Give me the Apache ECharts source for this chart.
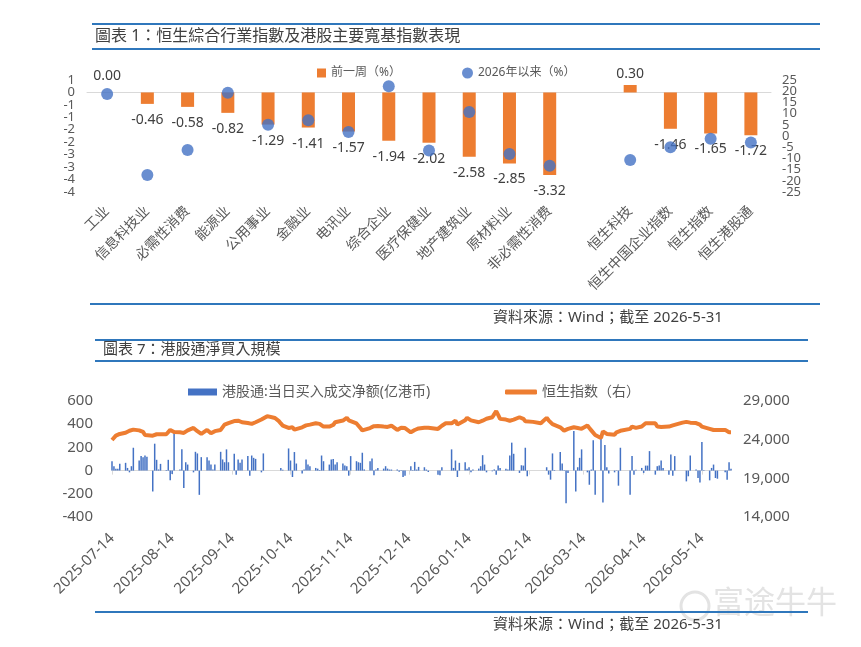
<!DOCTYPE html>
<html><head><meta charset="utf-8">
<script src="https://cdn.jsdelivr.net/npm/echarts/dist/echarts.min.js"></script>
<style>html,body{margin:0;padding:0;background:#fff}#c{width:861px;height:647px}</style>
</head><body><div id="c"></div>
<script>
// ---------- Chart 1 data ----------
const sectors = ['工业','信息科技业','必需性消费','能源业','公用事业','金融业','电讯业','综合企业','医疗保健业','地产建筑业','原材料业','非必需性消费','','恒生科技','恒生中国企业指数','恒生指数','恒生港股通'];
const weekChange = [0.00,-0.46,-0.58,-0.82,-1.29,-1.41,-1.57,-1.94,-2.02,-2.58,-2.85,-3.32,null,0.30,-1.46,-1.65,-1.72];
const ytdChange = [18.8,-17.4,-6.2,19.3,5.0,7.0,1.8,22.2,-6.5,10.7,-8.0,-13.3,null,-10.7,-5.0,-1.2,-2.9];

// ---------- Chart 2 data (one value per weekday from startDate; null = no trading) ----------
const startDate = '2025-07-14';
const endDate = '2026-05-29';
const dateTickLabels = ['2025-07-14','2025-08-14','2025-09-14','2025-10-14','2025-11-14','2025-12-14','2026-01-14','2026-02-14','2026-03-14','2026-04-14','2026-05-14'];
const flowNet = [
  81,38,15,15,58,   67,23,-15,38,197,   87,125,116,130,119,   -180,232,93,10,58,
  5,93,-84,-30,336,   9,183,-151,72,52,   -15,162,148,-209,116,   116,87,52,10,52,
  162,96,72,183,72,   145,-35,96,67,96,   125,-44,130,110,101,   -15,148,null,null,null,
  null,null,null,23,8,   191,87,-55,160,61,   -26,9,96,52,38,   23,17,5,130,81,
  52,96,101,52,72,   61,43,38,-44,125,   81,72,67,154,10,   81,104,-41,9,23,
  17,38,17,9,9,   9,-9,5,-55,-44,   38,5,75,9,32,   29,9,-12,null,null,
  -35,-41,29,null,null,   183,23,87,-55,67,   72,15,29,-15,10,   17,38,133,52,-15,
  -6,10,-35,43,23,   15,9,130,241,145,   -20,46,43,197,-49,   null,null,null,null,null,
  29,-35,-78,148,5,   160,61,5,-281,-20,   342,-180,29,110,183,   -15,-122,9,261,-209,
  276,-275,220,29,-26,   -15,3,-130,197,null,   null,-209,125,-35,8,   23,-20,43,43,168,
  -35,38,43,87,23,   -35,139,-44,125,null,   null,null,-93,-49,130,   9,-64,-102,247,5,
  -84,23,52,-64,-70,   null,-15,-78,72,15
];
const hsiClose = [
  23960,24200,24520,24600,24740,   24900,25080,25150,25340,25300,   25200,25260,25000,24600,24390,   24520,24600,24700,24820,24700,
  24700,24740,25260,25100,25000,   24950,24900,24870,25000,25200,   25520,25300,25100,24900,24740,   25260,25100,24820,24900,25100,
  25260,25500,25950,26000,26150,   26400,26560,26450,26300,26250,   26150,26050,26040,26150,26250,   26600,26850,null,27040,26900,
  26800,26560,26400,26100,25820,   25520,25690,25600,25300,25080,   25600,25780,25850,25900,25950,   26120,26100,26040,25800,25690,
  25700,25730,25900,26250,26300,   26470,26600,26820,26500,26250,   26100,25950,25500,25200,24950,   25500,25690,25750,25780,25780,
  25700,25520,25650,25820,25800,   25260,25400,25550,25690,25500,   24950,25100,25250,25390,25450,   25550,25600,25550,null,null,
  25390,25600,25800,null,26120,   26120,26300,26470,25950,26200,   26500,26820,26700,26500,26400,   26250,26300,26450,26560,26700,
  26900,27300,27680,27200,26690,   26600,26560,26450,26350,26600,   26900,27000,26700,26390,26390,   26300,null,null,null,26120,
  26820,26500,26250,26000,25820,   25600,25400,25170,25250,25390,   25600,25690,25500,25260,25400,   25820,25500,25200,24950,24600,
  24220,25080,24900,24740,24700,   24650,24950,25050,25150,null,   null,25400,25690,25600,25520,   25700,25900,26120,26100,26120,
  26120,25690,25700,25650,25690,   25690,25750,25850,25950,null,   26200,26390,26300,26250,26200,   26150,26120,25950,25690,25600,
  25400,25260,25250,25300,25260,   null,25260,25100,24950,24950
];

// ---------- build daily calendar axis ----------
const days = [], flowDaily = [], hsiDaily = [];
{
  let t = Date.parse(startDate + 'T00:00:00Z');
  const end = Date.parse(endDate + 'T00:00:00Z');
  let k = 0;
  for (; t <= end; t += 86400000) {
    const d = new Date(t);
    days.push(d.toISOString().slice(0, 10));
    const wd = d.getUTCDay();
    if (wd === 0 || wd === 6) { flowDaily.push(null); hsiDaily.push(null); }
    else { flowDaily.push(flowNet[k] ?? null); hsiDaily.push(hsiClose[k] ?? null); k++; }
  }
}
const isTick = (i, v) => dateTickLabels.indexOf(v) >= 0;

const FONT = "'Noto Sans', 'Noto Sans CJK SC', sans-serif";
const FONT_TC = "'Noto Sans', 'Noto Sans CJK TC', sans-serif";
const GRAY = '#595959';
const BLUE_LINE = '#2F77BC';
const roundLabel = v => { const r = Math.sign(v) * Math.round(Math.abs(v)); return String(r === 0 ? 0 : r); };
const commas = v => String(v).replace(/\B(?=(\d{3})+(?!\d))/g, ',');
const near = (a, b) => Math.abs(a - b) < 1e-6;
const valLabel = (extra) => Object.assign({color: GRAY, fontFamily: FONT, showMinLabel: true, showMaxLabel: true, hideOverlap: false}, extra);
const plainAxis = {splitLine: {show: false}, axisLine: {show: false}, axisTick: {show: false}};

const chart = echarts.init(document.getElementById('c'), null, {renderer: 'canvas'});
const option = {
  animation: false,
  backgroundColor: '#fff',
  textStyle: {fontFamily: FONT},
  grid: [
    {left: 87, top: 80, width: 684, height: 112},
    {left: 112, top: 401, width: 619, height: 116}
  ],
  legend: [
    {data: ['前一周（%）'], left: 317, top: 67, padding: 0, icon: 'rect', itemWidth: 9, itemHeight: 9, itemGap: 4,
     textStyle: {fontSize: 12, color: GRAY, fontFamily: FONT}},
    {data: ['2026年以来（%）'], left: 462, top: 67, padding: 0, icon: 'circle', itemWidth: 11, itemHeight: 11,
     textStyle: {fontSize: 12, color: GRAY, fontFamily: FONT}},
    {data: ['港股通:当日买入成交净额(亿港币)'], left: 188, top: 385, padding: 0, icon: 'rect', itemWidth: 29, itemHeight: 7,
     textStyle: {fontSize: 14, color: GRAY, fontFamily: FONT}},
    {data: [{name: '恒生指数（右）', icon: 'roundRect'}], left: 505, top: 385, padding: 0, itemWidth: 32, itemHeight: 5,
     textStyle: {fontSize: 14, color: GRAY, fontFamily: FONT}}
  ],
  xAxis: [
    {gridIndex: 0, type: 'category', data: sectors, axisLine: {show: false}, axisTick: {show: false},
     axisLabel: {interval: 0, rotate: 45, fontSize: 14, color: GRAY, margin: 17, fontFamily: FONT, hideOverlap: false}},
    {gridIndex: 0, type: 'category', data: sectors, position: 'top',
     axisLine: {show: true, onZero: true, onZeroAxisIndex: 0, lineStyle: {color: '#d9d9d9', width: 1}},
     axisTick: {show: false}, axisLabel: {show: false}},
    {gridIndex: 1, type: 'category', data: days, boundaryGap: false, axisLine: {show: false}, axisTick: {show: false},
     axisLabel: {interval: isTick, rotate: 45, fontSize: 15, color: GRAY, margin: 19, fontFamily: FONT, hideOverlap: false}},
    {gridIndex: 1, type: 'category', data: days, boundaryGap: false, position: 'top',
     axisLine: {show: true, onZero: true, onZeroAxisIndex: 2, lineStyle: {color: '#d9d9d9', width: 1}},
     axisTick: {show: true, inside: true, interval: isTick, length: 4, lineStyle: {color: '#d9d9d9'}},
     axisLabel: {show: false}}
  ],
  yAxis: [
    Object.assign({gridIndex: 0, type: 'value', min: -4, max: 0.5, interval: 0.5, position: 'left',
     axisLabel: valLabel({formatter: roundLabel, fontSize: 13, margin: 12})}, plainAxis),
    Object.assign({gridIndex: 0, type: 'value', min: -25, max: 25, interval: 5, position: 'right',
     axisLabel: valLabel({fontSize: 13, margin: 11})}, plainAxis),
    Object.assign({gridIndex: 1, type: 'value', min: -400, max: 600, interval: 200, position: 'left',
     axisLabel: valLabel({fontSize: 15, margin: 19})}, plainAxis),
    Object.assign({gridIndex: 1, type: 'value', min: 14000, max: 29000, interval: 5000, position: 'right',
     axisLabel: valLabel({formatter: commas, fontSize: 15, margin: 12})}, plainAxis),
    // companion axes: draw the tick labels next to the ends that the main axes drop when labels touch
    Object.assign({gridIndex: 0, type: 'value', min: -4, max: 0.5, interval: 0.5, position: 'left',
     axisLabel: {color: GRAY, fontFamily: FONT, fontSize: 13, margin: 12, showMinLabel: false, showMaxLabel: false,
       formatter: v => (near(v, -3.5) || near(v, 0)) ? roundLabel(v) : ''}}, plainAxis),
    Object.assign({gridIndex: 0, type: 'value', min: -25, max: 25, interval: 5, position: 'right',
     axisLabel: {color: GRAY, fontFamily: FONT, fontSize: 13, margin: 11, showMinLabel: false, showMaxLabel: false,
       formatter: v => (near(v, -20) || near(v, 20)) ? String(v) : ''}}, plainAxis)
  ],
  series: [
    {name: '前一周（%）', type: 'bar', xAxisIndex: 0, yAxisIndex: 0, barWidth: 13,
     itemStyle: {color: '#ED7D31'},
     label: {show: true, fontSize: 14, color: '#404040', fontFamily: FONT,
             formatter: p => (typeof p.value === 'number' ? p.value.toFixed(2) : '')},
     data: weekChange.map(v => v == null ? null : {value: v,
        label: {position: v >= 0 ? 'top' : 'bottom', distance: v > 0 ? 4 : 9}}),
     z: 2},
    {name: '2026年以来（%）', type: 'scatter', xAxisIndex: 0, yAxisIndex: 1, symbolSize: 12,
     itemStyle: {color: '#4472C4'}, data: ytdChange, z: 3},
    {name: '港股通:当日买入成交净额(亿港币)', type: 'bar', xAxisIndex: 2, yAxisIndex: 2, barWidth: 1.5,
     itemStyle: {color: '#4472C4'}, data: flowDaily, z: 2},
    {name: '恒生指数（右）', type: 'line', xAxisIndex: 2, yAxisIndex: 3, symbol: 'none', connectNulls: true,
     lineStyle: {width: 4, color: '#ED7D31'}, itemStyle: {color: '#ED7D31'}, data: hsiDaily, z: 3}
  ],
  graphic: [
    {type: 'line', shape: {x1: 92, y1: 24, x2: 820, y2: 24}, style: {stroke: BLUE_LINE, lineWidth: 2}},
    {type: 'text', left: 95, top: 28, style: {text: '圖表 1：恒生綜合行業指數及港股主要寬基指數表現', fontSize: 16, fill: '#404040', fontFamily: FONT_TC}},
    {type: 'line', shape: {x1: 92, y1: 49, x2: 820, y2: 49}, style: {stroke: BLUE_LINE, lineWidth: 2}},
    {type: 'line', shape: {x1: 90, y1: 304, x2: 820, y2: 304}, style: {stroke: BLUE_LINE, lineWidth: 2}},
    {type: 'text', left: 493, top: 310, style: {text: '資料來源：Wind；截至 2026-5-31', fontSize: 15, fill: '#404040', fontFamily: FONT_TC}},
    {type: 'line', shape: {x1: 95, y1: 340, x2: 808, y2: 340}, style: {stroke: BLUE_LINE, lineWidth: 2}},
    {type: 'text', left: 103, top: 342, style: {text: '圖表 7：港股通淨買入規模', fontSize: 15, fill: '#404040', fontFamily: FONT_TC}},
    {type: 'line', shape: {x1: 95, y1: 361, x2: 808, y2: 361}, style: {stroke: BLUE_LINE, lineWidth: 2}},
    {type: 'line', shape: {x1: 95, y1: 612, x2: 808, y2: 612}, style: {stroke: BLUE_LINE, lineWidth: 2}},
    {type: 'text', left: 493, top: 617, style: {text: '資料來源：Wind；截至 2026-5-31', fontSize: 15, fill: '#404040', fontFamily: FONT_TC}},
    {type: 'circle', shape: {cx: 695, cy: 606, r: 14}, style: {fill: 'none', stroke: '#e3e3e3', lineWidth: 3}, z: -1},
    {type: 'text', left: 713, top: 589, style: {text: '富途牛牛', fontSize: 31, fill: '#e3e3e3', fontFamily: FONT}, z: -1}
  ]
};
chart.setOption(option);
</script>
</body></html>
